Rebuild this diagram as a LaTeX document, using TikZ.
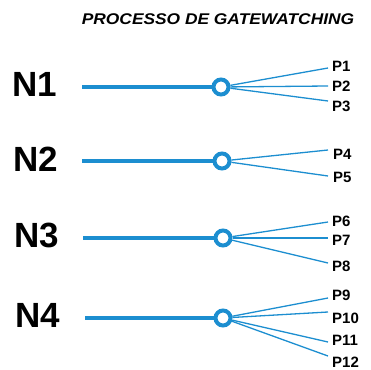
\documentclass[tikz,border=0pt]{standalone}
\usepackage{fontspec}
\setmainfont{Liberation Sans}
\definecolor{lineblue}{RGB}{28,142,208}
\begin{document}
\begin{tikzpicture}[x=1pt,y=-1pt,
  nlabel/.style={anchor=west,inner sep=0pt,font=\bfseries\fontsize{35}{35}\selectfont},
  plabel/.style={anchor=west,inner sep=0pt,font=\bfseries\fontsize{15}{15}\selectfont},
  hub/.style={circle,draw=lineblue,line width=4pt,minimum size=15pt,inner sep=0pt,fill=white},
  mainline/.style={draw=lineblue,line width=4.5pt},
  fanline/.style={draw=lineblue,line width=1.3pt}]
\useasboundingbox (0,0) rectangle (371,369);
\node[inner sep=0pt,font=\bfseries\itshape\fontsize{15.5}{15.5}\selectfont] (title) at (218,19) {\scalebox{1.12}[1]{PROCESSO DE GATEWATCHING}};
% N1
\node[nlabel] (n1) at (12,84) {N1};
\coordinate (s1) at (82,87);
\node[hub] (h1) at (221,87) {};
\draw[mainline] (s1) -- (h1);
\coordinate (e1) at (328,68);
\coordinate (e2) at (328,86);
\coordinate (e3) at (328,101);
\draw[fanline] (h1) -- (e1);
\draw[fanline] (h1) -- (e2);
\draw[fanline] (h1) -- (e3);
\node[plabel] (p1) at (332,66) {P1};
\node[plabel] (p2) at (332,86) {P2};
\node[plabel] (p3) at (332,106) {P3};
% N2
\node[nlabel] (n2) at (13,159) {N2};
\coordinate (s2) at (82,161);
\node[hub] (h2) at (222,161) {};
\draw[mainline] (s2) -- (h2);
\coordinate (e4) at (328,150);
\coordinate (e5) at (328,176);
\draw[fanline] (h2) -- (e4);
\draw[fanline] (h2) -- (e5);
\node[plabel] (p4) at (333,154) {P4};
\node[plabel] (p5) at (333,177) {P5};
% N3
\node[nlabel] (n3) at (14,235) {N3};
\coordinate (s3) at (83,238);
\node[hub] (h3) at (223,238) {};
\draw[mainline] (s3) -- (h3);
\coordinate (e6) at (328,222);
\coordinate (e7) at (328,238);
\coordinate (e8) at (328,263);
\draw[fanline] (h3) -- (e6);
\draw[fanline] (h3) -- (e7);
\draw[fanline] (h3) -- (e8);
\node[plabel] (p6) at (332,221) {P6};
\node[plabel] (p7) at (332,240) {P7};
\node[plabel] (p8) at (332,266) {P8};
% N4
\node[nlabel] (n4) at (15,315) {N4};
\coordinate (s4) at (85,318);
\node[hub] (h4) at (223,318) {};
\draw[mainline] (s4) -- (h4);
\coordinate (e9) at (328,298);
\coordinate (e10) at (328,312);
\coordinate (e11) at (328,342);
\coordinate (e12) at (328,356);
\draw[fanline] (h4) -- (e9);
\draw[fanline] (h4) -- (e10);
\draw[fanline] (h4) -- (e11);
\draw[fanline] (h4) -- (e12);
\node[plabel] (p9) at (332,295) {P9};
\node[plabel] (p10) at (332,318) {P10};
\node[plabel] (p11) at (332,340) {P11};
\node[plabel] (p12) at (332,362) {P12};
\end{tikzpicture}
\end{document}
